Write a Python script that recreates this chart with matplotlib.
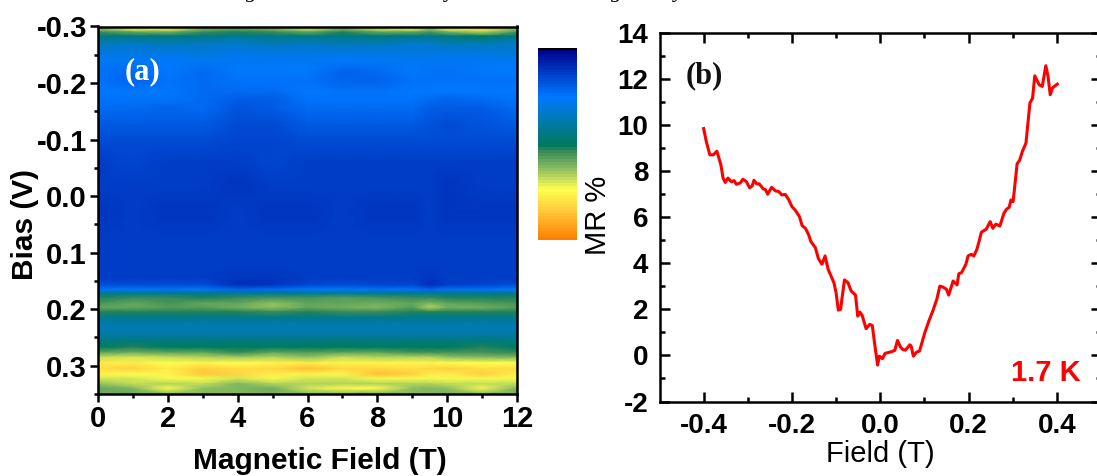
import numpy as np
import matplotlib
matplotlib.use("Agg")
import matplotlib.pyplot as plt
from matplotlib.colors import LinearSegmentedColormap
from matplotlib.ticker import MultipleLocator, FormatStrFormatter

plt.rcParams['font.family'] = ['Liberation Sans', 'DejaVu Sans']
plt.rcParams['axes.unicode_minus'] = False

W, H = 1097, 476

# panel (a) map, z runs 0 (navy) to 100 (orange)
field_map = [0, 1, 2, 3, 4, 5, 6, 7, 8, 9, 9.5, 10, 11, 12]
bias_map = [-0.300, -0.296, -0.290, -0.283, -0.270, -0.255, -0.240, -0.220, -0.205, -0.185,
            -0.170, -0.155, -0.130, -0.100, -0.060, -0.020, 0.030, 0.080, 0.120, 0.145,
            0.157, 0.165, 0.172, 0.180, 0.190, 0.197, 0.205, 0.215, 0.230, 0.245,
            0.257, 0.267, 0.277, 0.285, 0.295, 0.305, 0.315, 0.323, 0.332, 0.340, 0.350]
z_map = [
    [66, 74, 76, 64, 60, 64, 70, 66, 72, 74, 68, 74, 80, 66],
    [64, 73, 75, 62, 58, 62, 69, 62, 70, 72, 64, 72, 80, 64],
    [54, 58, 60, 54, 52, 54, 58, 52, 58, 58, 56, 60, 66, 56],
    [44, 46, 46, 44, 43, 44, 44, 44, 46, 44, 44, 46, 50, 44],
    [36, 34, 36, 35, 34, 36, 35, 36, 36, 34, 34, 36, 36, 34],
    [30, 31, 30, 32, 29, 31, 30, 31, 31, 31, 31, 31, 31, 32],
    [27, 28, 26, 27, 27, 28, 28, 26, 27, 28, 28, 28, 27, 28],
    [24, 23, 25, 23, 25, 25, 25, 21, 23, 25, 24, 24, 25, 25],
    [24, 21, 24, 23, 24, 24, 24, 21, 21, 24, 24, 24, 24, 24],
    [25, 25, 25, 23, 23, 22, 25, 24, 24, 25, 25, 25, 25, 25],
    [24, 24, 24, 23, 20, 20, 24, 24, 24, 24, 22, 21, 22, 24],
    [22, 22, 21, 22, 18, 19, 22, 22, 22, 22, 19, 20, 20, 22],
    [19, 19, 19, 19, 16, 16, 19, 19, 19, 19, 18, 17, 18, 19],
    [16, 16, 16, 16, 15, 15, 16, 16, 16, 16, 16, 16, 16, 16],
    [14, 15, 14, 14, 14, 15, 14, 13, 14, 14, 14, 14, 13, 14],
    [13, 13, 14, 13, 12, 13, 13, 13, 14, 13, 13, 12, 13, 13],
    [12, 13, 12, 12, 13, 12, 12, 13, 12, 12, 13, 12, 12, 12],
    [13, 13, 13, 14, 13, 13, 14, 13, 13, 14, 13, 13, 13, 13],
    [14, 14, 14, 14, 13, 14, 14, 14, 14, 14, 14, 14, 14, 14],
    [14, 14, 14, 14, 11, 12, 14, 14, 14, 14, 11, 14, 13, 14],
    [16, 16, 16, 16, 10, 11, 15, 16, 15, 15, 10, 14, 15, 16],
    [24, 25, 24, 25, 21, 22, 25, 26, 24, 24, 21, 24, 24, 25],
    [43, 43, 43, 43, 42, 43, 43, 43, 43, 43, 42, 43, 43, 43],
    [53, 54, 54, 53, 54, 55, 55, 57, 55, 54, 54, 53, 53, 53],
    [56, 58, 56, 58, 59, 63, 59, 59, 60, 59, 62, 58, 57, 56],
    [58, 58, 57, 57, 60, 63, 59, 60, 62, 57, 66, 60, 60, 57],
    [53, 53, 53, 52, 53, 54, 53, 54, 54, 52, 53, 53, 53, 52],
    [43, 43, 43, 43, 43, 43, 43, 43, 43, 43, 43, 43, 43, 43],
    [37, 37, 37, 37, 37, 37, 37, 37, 37, 37, 37, 37, 37, 37],
    [40, 40, 40, 40, 40, 40, 40, 40, 40, 40, 40, 40, 40, 40],
    [46, 46, 46, 46, 46, 46, 46, 47, 46, 46, 46, 46, 46, 46],
    [51, 52, 50, 51, 50, 51, 51, 50, 51, 50, 50, 51, 52, 49],
    [58, 60, 58, 58, 54, 58, 57, 58, 58, 56, 56, 56, 56, 54],
    [68, 70, 68, 66, 65, 66, 64, 68, 66, 66, 66, 64, 62, 62],
    [77, 78, 74, 76, 74, 76, 78, 76, 76, 76, 76, 74, 74, 74],
    [80, 84, 78, 83, 80, 82, 86, 82, 82, 81, 82, 83, 80, 80],
    [76, 74, 76, 85, 82, 78, 76, 76, 86, 84, 78, 78, 84, 78],
    [70, 70, 72, 72, 70, 72, 70, 70, 72, 72, 72, 72, 72, 72],
    [64, 68, 66, 68, 62, 66, 66, 66, 66, 66, 66, 68, 68, 68],
    [58, 62, 74, 64, 62, 60, 70, 74, 74, 64, 62, 64, 72, 62],
    [60, 58, 62, 62, 62, 60, 62, 62, 60, 62, 62, 60, 62, 60],
]

# panel (b) curve
field_b = [-0.400, -0.394, -0.386, -0.378, -0.370, -0.361, -0.356, -0.351, -0.345, -0.337,
           -0.331, -0.326, -0.317, -0.311, -0.303, -0.296, -0.290, -0.286, -0.280, -0.274,
           -0.265, -0.260, -0.255, -0.246, -0.237, -0.230, -0.223, -0.215, -0.207, -0.200,
           -0.193, -0.183, -0.177, -0.169, -0.162, -0.157, -0.147, -0.140, -0.132, -0.125,
           -0.118, -0.105, -0.100, -0.095, -0.090, -0.081, -0.073, -0.066, -0.056, -0.051,
           -0.046, -0.041, -0.032, -0.024, -0.018, -0.013, -0.006, -0.002, 0.005, 0.011,
           0.025, 0.033, 0.039, 0.046, 0.051, 0.057, 0.067, 0.070, 0.075, 0.082,
           0.089, 0.101, 0.110, 0.119, 0.128, 0.135, 0.142, 0.150, 0.155, 0.165,
           0.174, 0.178, 0.184, 0.194, 0.199, 0.206, 0.212, 0.219, 0.225, 0.229,
           0.240, 0.249, 0.255, 0.262, 0.271, 0.280, 0.286, 0.292, 0.296, 0.301,
           0.310, 0.316, 0.322, 0.330, 0.339, 0.345, 0.350, 0.360, 0.367, 0.375,
           0.380, 0.385, 0.390, 0.401]
mr_b = [9.85, 9.29, 8.71, 8.71, 8.87, 8.28, 7.70, 7.51, 7.70, 7.54,
        7.59, 7.43, 7.49, 7.65, 7.54, 7.28, 7.36, 7.61, 7.45, 7.45,
        7.23, 7.20, 7.00, 7.30, 7.14, 7.12, 6.97, 6.99, 6.75, 6.46,
        6.32, 6.03, 5.64, 5.51, 5.23, 4.94, 4.68, 4.20, 3.96, 4.32,
        3.74, 3.16, 2.72, 1.97, 2.00, 3.28, 3.16, 2.80, 2.62, 1.71,
        1.88, 1.74, 1.16, 1.35, 1.30, 0.55, -0.42, -0.03, -0.14, 0.09,
        0.16, 0.22, 0.65, 0.36, 0.26, 0.23, 0.46, 0.41, -0.03, 0.14,
        0.19, 0.99, 1.49, 1.93, 2.43, 3.01, 2.97, 2.87, 2.62, 3.23,
        3.06, 3.55, 3.59, 3.96, 4.32, 4.39, 4.32, 4.61, 5.04, 5.35,
        5.48, 5.81, 5.52, 5.70, 5.62, 6.17, 6.35, 6.43, 6.75, 6.68,
        8.32, 8.49, 8.86, 9.22, 10.96, 11.17, 12.14, 11.75, 11.68, 12.58,
        12.12, 11.32, 11.61, 11.78]

# descenders of the caption that is cut off at the top edge
caption_letters = ["g", "y", "g", "y"]
caption_x = [252, 450, 617, 679]

cmap_stops = [(0.0, "#00008c"), (0.25, "#0078ff"), (0.51, "#007a5c"), (0.53, "#2f8658"),
              (0.635, "#90c060"), (0.74, "#ffff50"), (0.84, "#ffd040"), (1.0, "#ff8000")]
origin_map = LinearSegmentedColormap.from_list("origin", cmap_stops, N=64)


def px_axes(fig, x0, x1, y0, y1):
    # pixel box of the reference, y from the top
    return fig.add_axes([x0 / W, 1 - y1 / H, (x1 - x0) / W, (y1 - y0) / H])


fig = plt.figure(figsize=(W / 100, H / 100), dpi=100)

for letter, x in zip(caption_letters, caption_x):
    fig.text(x / W, 1 + 3 / H, letter, fontsize=16, style='italic', family='Liberation Serif',
             ha='center', va='baseline')

# ---- (a)
ax = px_axes(fig, 98, 517, 26.5, 394)
mesh = ax.pcolormesh(field_map, bias_map, np.array(z_map), cmap=origin_map, vmin=0, vmax=100,
                     shading='gouraud', rasterized=True)
ax.set_xlim(0, 12)
ax.set_ylim(0.35, -0.3)
ax.xaxis.set_major_locator(MultipleLocator(2))
ax.xaxis.set_minor_locator(MultipleLocator(1))
ax.yaxis.set_major_locator(MultipleLocator(0.1))
ax.yaxis.set_minor_locator(MultipleLocator(0.05))
ax.yaxis.set_major_formatter(FormatStrFormatter('%.1f'))
ax.tick_params(which='major', length=6, width=1.8, labelsize=21, pad=2)
ax.tick_params(which='minor', length=3, width=1.8)
for lab in ax.get_xticklabels() + ax.get_yticklabels():
    lab.set_fontweight('bold')
for s in ax.spines.values():
    s.set_linewidth(1.8)
fig.text(320 / W, 1 - 461 / H, "Magnetic Field (T)", fontsize=21.5, fontweight='bold', ha='center', va='center')
fig.text(25 / W, 1 - 224 / H, "Bias (V)", fontsize=21.5, fontweight='bold', rotation=90, ha='center', va='center')
fig.text(143 / W, 1 - 72 / H, "(a)", color='white', fontsize=22, fontweight='bold',
         family='Liberation Serif', ha='center', va='center')

# ---- colour scale
cax = px_axes(fig, 538, 577, 48, 240)
cbar = fig.colorbar(mesh, cax=cax)
cbar.ax.invert_yaxis()
cbar.set_ticks([])
cbar.outline.set_visible(False)
cax.axhline(0, color='k', lw=2.5)

# ---- (b)
bx = px_axes(fig, 659.5, 1101, 33, 401.5)
bx.plot(field_b, mr_b, color='#ff0000', lw=2.2)
bx.set_xlim(-0.5, 0.5)
bx.set_ylim(-2, 14)
bx.set_xticks([-0.4, -0.2, 0.0, 0.2, 0.4])
bx.set_xticks([-0.3, -0.1, 0.1, 0.3], minor=True)
bx.yaxis.set_major_locator(MultipleLocator(2))
bx.yaxis.set_minor_locator(MultipleLocator(1))
bx.xaxis.set_major_formatter(FormatStrFormatter('%.1f'))
bx.tick_params(which='both', direction='in', top=True, right=True, width=1.8)
bx.tick_params(which='major', length=7, labelsize=20, pad=8)
bx.tick_params(which='minor', length=3.5)
for lab in bx.get_xticklabels() + bx.get_yticklabels():
    lab.set_fontweight('bold')
for s in bx.spines.values():
    s.set_linewidth(1.8)
fig.text(880 / W, 1 - 454 / H, "Field (T)", fontsize=21, ha='center', va='center')
fig.text(598 / W, 1 - 215 / H, "MR %", fontsize=21, rotation=90, ha='center', va='center')
fig.text(704 / W, 1 - 76 / H, "(b)", color='#111111', fontsize=22, fontweight='bold',
         family='Liberation Serif', ha='center', va='center')
bx.text(0.375, -0.75, "1.7 K", color='#ff0000', fontsize=21, fontweight='bold', ha='center', va='center')

fig.savefig("out.png", dpi=100)
